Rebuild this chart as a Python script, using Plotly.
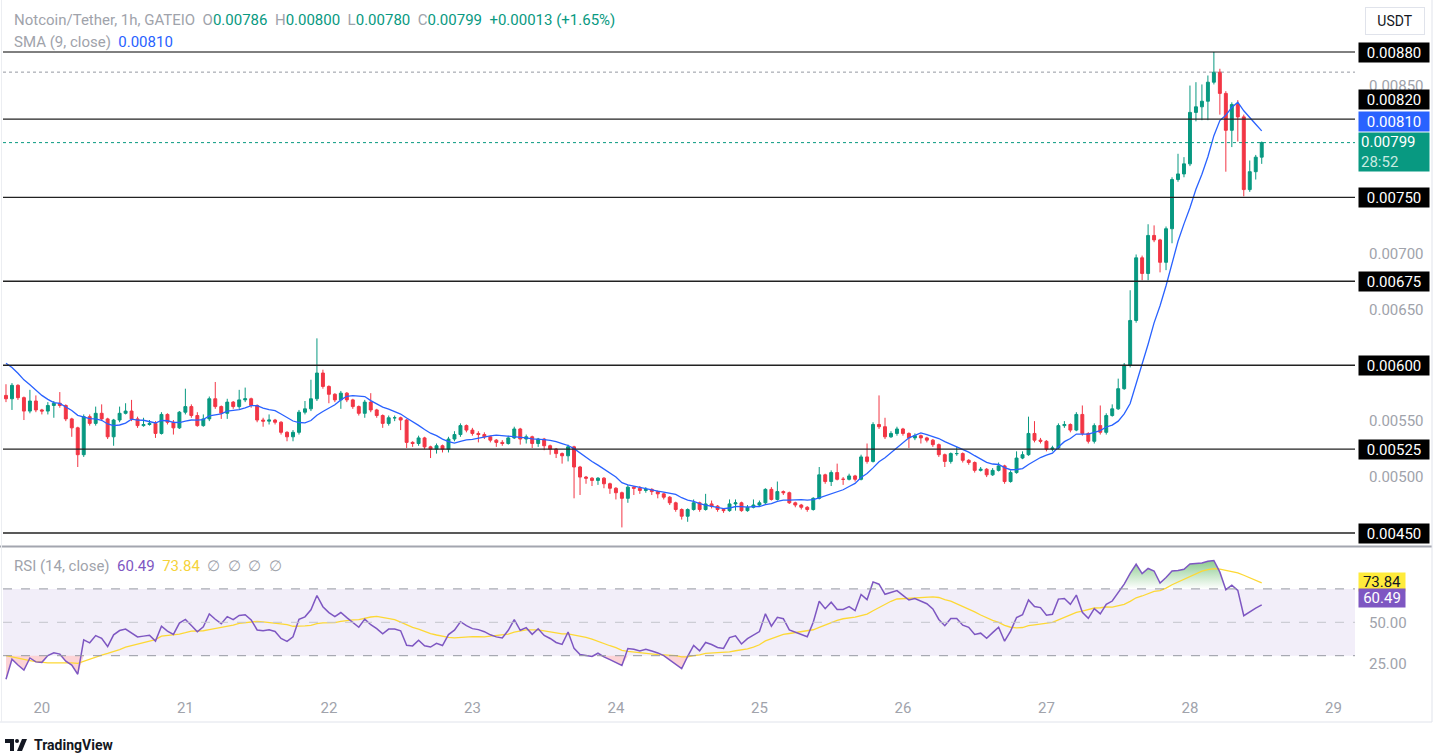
import numpy as np
import pandas as pd
import plotly.graph_objects as go

W, H = 1436, 753
GREEN = "#089981"
RED = "#f23645"
BLUE = "#2962ff"
PURPLE = "#7e57c2"
YELLOW = "#fdd835"
GRAY = "#a0a3ab"
DARK = "#131722"
FONT = "Roboto"

# ---------------- data (prices in units of 1e-5 USDT) ----------------
start_time = "2024-05-19 18:00"
first_open_e5 = 573
closes_e5 = [
    570, 582, 571, 559, 568, 560, 559, 564, 566, 564,
    552, 544, 520, 554, 548, 557, 552, 536, 551, 557,
    559, 552, 546, 547, 548, 539, 556, 549, 544, 558,
    563, 555, 546, 552, 570, 563, 557, 567, 563, 569,
    570, 564, 551, 550, 551, 549, 540, 536, 540, 558,
    561, 570, 593, 581, 574, 569, 575, 569, 563, 557,
    567, 560, 555, 548, 553, 553, 551, 531, 530, 535,
    527, 525, 528, 525, 534, 538, 546, 542, 539, 538,
    536, 533, 531, 530, 535, 543, 534, 536, 530, 534,
    528, 525, 521, 519, 527, 509, 500, 499, 497, 499,
    494, 490, 486, 481, 491, 490, 488, 489, 487, 485,
    482, 477, 471, 465, 471, 477, 471, 476, 474, 471,
    470, 476, 477, 470, 473, 475, 477, 489, 480, 487,
    486, 477, 475, 473, 471, 481, 502, 496, 504, 498,
    498, 501, 498, 518, 514, 547, 545, 536, 539, 543,
    539, 535, 537, 535, 533, 529, 520, 514, 521, 521,
    515, 513, 506, 507, 502, 506, 510, 496, 504, 517,
    520, 539, 533, 532, 525, 526, 546, 547, 542, 556,
    539, 532, 546, 540, 555, 561, 579, 600, 640, 696,
    682, 716, 712, 692, 722, 766, 771, 780, 826, 831,
    836, 853, 862, 843, 810, 833, 822, 757, 773, 786,
    799,
]
highs_e5 = [
    583, 584, 583, 572, 578, 573, 561, 567, 568, 576,
    565, 553, 545, 556, 556, 563, 565, 553, 552, 563,
    566, 569, 554, 553, 551, 550, 558, 557, 551, 559,
    579, 565, 558, 556, 572, 585, 564, 570, 568, 578,
    580, 571, 565, 553, 556, 552, 550, 541, 542, 560,
    568, 587, 624, 596, 582, 575, 577, 576, 570, 564,
    569, 575, 561, 556, 555, 555, 554, 552, 532, 537,
    536, 528, 530, 529, 536, 541, 548, 547, 544, 541,
    540, 537, 534, 533, 537, 545, 544, 538, 537, 535,
    535, 529, 526, 522, 529, 528, 510, 501, 500, 500,
    500, 495, 491, 487, 493, 492, 492, 491, 490, 488,
    486, 483, 478, 472, 472, 480, 478, 485, 479, 475,
    472, 480, 480, 478, 475, 480, 479, 490, 491, 496,
    488, 487, 478, 476, 474, 482, 509, 503, 506, 512,
    500, 503, 502, 520, 530, 549, 573, 553, 541, 545,
    544, 540, 539, 538, 536, 534, 530, 521, 522, 527,
    522, 516, 514, 509, 508, 508, 513, 511, 506, 523,
    523, 554, 550, 535, 533, 528, 548, 550, 548, 558,
    564, 540, 548, 564, 557, 565, 588, 602, 667, 699,
    698, 726, 725, 713, 724, 768, 789, 786, 850, 853,
    851, 859, 880, 865, 845, 835, 837, 824, 783, 788,
    800,
]
lows_e5 = [
    567, 560, 569, 551, 557, 558, 556, 556, 553, 562,
    550, 536, 509, 518, 546, 546, 550, 534, 528, 549,
    556, 550, 544, 545, 546, 535, 538, 547, 538, 543,
    556, 553, 545, 545, 550, 561, 552, 552, 561, 561,
    567, 562, 549, 545, 547, 547, 538, 532, 532, 538,
    556, 559, 568, 579, 566, 567, 561, 567, 561, 555,
    553, 558, 553, 544, 546, 550, 542, 526, 527, 528,
    525, 517, 521, 522, 522, 532, 536, 540, 537, 531,
    534, 531, 527, 528, 529, 534, 529, 530, 526, 527,
    524, 520, 517, 512, 514, 481, 484, 494, 492, 493,
    490, 485, 480, 455, 477, 484, 485, 486, 484, 481,
    480, 475, 469, 462, 460, 470, 469, 470, 472, 469,
    468, 469, 470, 469, 469, 472, 474, 476, 479, 479,
    484, 476, 473, 471, 469, 470, 480, 494, 492, 497,
    493, 497, 496, 497, 512, 513, 543, 534, 535, 537,
    537, 526, 533, 530, 531, 527, 518, 509, 512, 519,
    513, 511, 504, 505, 500, 501, 505, 494, 495, 503,
    516, 519, 531, 530, 523, 523, 525, 544, 540, 541,
    537, 530, 530, 538, 538, 554, 560, 578, 598, 638,
    676, 676, 710, 683, 685, 709, 764, 768, 778, 818,
    819, 819, 851, 824, 773, 795, 800, 751, 755, 766,
    780,
]
# closes before the visible window (needed to start SMA / RSI)
pre_closes_e5 = [646, 650, 644, 648, 642, 646, 640, 643, 637, 640, 634, 637, 631, 634,
                 628, 630, 624, 626, 620, 622, 616, 618, 612, 608, 604, 600, 596, 592]

levels = [0.00880, 0.00820, 0.00750, 0.00675, 0.00600, 0.00525, 0.00450]
dotted_level = 0.00862
price_ticks = [0.00850, 0.00700, 0.00650, 0.00550, 0.00500]
rsi_ticks = [50, 25]
rsi_bands = [70, 50, 30]
day_labels = ["20", "21", "22", "23", "24", "25", "26", "27", "28", "29"]
day_dates = ["2024-05-%s" % d for d in day_labels]
sma_label_value = 0.00810
rsi_label_value = 60.49
rsi_ma_label_value = 73.84
countdown = "28:52"

# ---------------- derived ----------------
E5 = 1e-5
closes = [round(v * E5, 5) for v in closes_e5]
highs = [round(v * E5, 5) for v in highs_e5]
lows = [round(v * E5, 5) for v in lows_e5]
opens = [round(first_open_e5 * E5, 5)] + closes[:-1]
pre = [round(v * E5, 5) for v in pre_closes_e5]
times = pd.date_range(start_time, periods=len(closes), freq="h")

all_c = np.array(pre + closes)
sma = pd.Series(all_c).rolling(9).mean().to_numpy()[len(pre):]


def rsi_wilder(c, n=14):
    d = np.diff(c)
    g = np.clip(d, 0, None)
    l = np.clip(-d, 0, None)
    out = np.full(len(c), np.nan)
    ag, al = g[:n].mean(), l[:n].mean()
    out[n] = 100 - 100 / (1 + ag / al) if al > 0 else 100
    for i in range(n, len(d)):
        ag = (ag * (n - 1) + g[i]) / n
        al = (al * (n - 1) + l[i]) / n
        out[i + 1] = 100 - 100 / (1 + ag / al) if al > 0 else 100
    return out


rsi_all = rsi_wilder(all_c)
rsi_ma_all = pd.Series(rsi_all).rolling(14).mean().to_numpy()
rsi = rsi_all[len(pre):]
rsi_ma = rsi_ma_all[len(pre):]


def PX(x):
    return x / W


def PY(y):
    return 1 - y / H


X0, X1 = 3, 1355
xr = [times[0] - pd.Timedelta(minutes=30), times[0] + pd.Timedelta(hours=225.6)]
price_range = [0.00880 - 494 / 1.1186 * E5, 0.00880 + 52 / 1.1186 * E5]
rsi_range = [50 - 70.7 / 1.67, 50 + 74.3 / 1.67]

fig = go.Figure()
fig.add_trace(go.Candlestick(
    x=times, open=opens, high=highs, low=lows, close=closes,
    increasing=dict(line=dict(color=GREEN, width=1), fillcolor=GREEN),
    decreasing=dict(line=dict(color=RED, width=1), fillcolor=RED),
    whiskerwidth=0, xaxis="x", yaxis="y", hoverinfo="skip", showlegend=False))
fig.add_trace(go.Scatter(x=times, y=sma, mode="lines", line=dict(color=BLUE, width=1.3),
                         xaxis="x", yaxis="y", hoverinfo="skip"))

# RSI overbought / oversold fills
fig.add_trace(go.Scatter(x=times, y=[70] * len(times), mode="lines", line=dict(width=0),
                         xaxis="x2", yaxis="y2", hoverinfo="skip"))
fig.add_trace(go.Scatter(x=times, y=np.maximum(rsi, 70), mode="lines", line=dict(width=0),
                         fill="tonexty", fillcolor="rgba(76,175,80,0.3)",
                         fillgradient=dict(type="vertical",
                                           colorscale=[[0, "rgba(76,175,80,0)"], [1, "rgba(76,175,80,0.65)"]]),
                         xaxis="x2", yaxis="y2", hoverinfo="skip"))
fig.add_trace(go.Scatter(x=times, y=[30] * len(times), mode="lines", line=dict(width=0),
                         xaxis="x2", yaxis="y2", hoverinfo="skip"))
fig.add_trace(go.Scatter(x=times, y=np.minimum(rsi, 30), mode="lines", line=dict(width=0),
                         fill="tonexty", fillcolor="rgba(242,54,69,0.22)",
                         xaxis="x2", yaxis="y2", hoverinfo="skip"))
fig.add_trace(go.Scatter(x=times, y=rsi_ma, mode="lines", line=dict(color=YELLOW, width=1.3),
                         xaxis="x2", yaxis="y2", hoverinfo="skip"))
fig.add_trace(go.Scatter(x=times, y=rsi, mode="lines", line=dict(color=PURPLE, width=1.5),
                         xaxis="x2", yaxis="y2", hoverinfo="skip"))

shapes = []
# RSI band
shapes.append(dict(type="rect", xref="paper", yref="y2", x0=PX(X0), x1=PX(X1), y0=30, y1=70,
                   fillcolor="rgba(126,87,194,0.10)", line=dict(width=0), layer="below"))
for b in rsi_bands:
    shapes.append(dict(type="line", xref="paper", yref="y2", x0=PX(X0), x1=PX(X1), y0=b, y1=b,
                       line=dict(color="#9598a1" if b != 50 else "#c3c5cc", width=1, dash="dash")))
# horizontal levels
for lv in levels:
    shapes.append(dict(type="line", xref="paper", yref="y", x0=PX(X0), x1=PX(X1), y0=lv, y1=lv,
                       line=dict(color="#222222" if lv != levels[0] else "#000000",
                                 width=1.4 if lv != levels[0] else 1)))
shapes.append(dict(type="line", xref="paper", yref="y", x0=PX(X0), x1=PX(X1), y0=dotted_level,
                   y1=dotted_level, line=dict(color="#9598a1", width=1, dash="dot")))
shapes.append(dict(type="line", xref="paper", yref="y", x0=PX(X0), x1=PX(X1), y0=closes[-1],
                   y1=closes[-1], line=dict(color=GREEN, width=1, dash="dot")))
# pane separator & borders
shapes.append(dict(type="line", xref="paper", yref="paper", x0=0, x1=PX(1432), y0=PY(546.5),
                   y1=PY(546.5), line=dict(color="#a3a6af", width=2)))
shapes.append(dict(type="line", xref="paper", yref="paper", x0=PX(1432), x1=PX(1432), y0=PY(0),
                   y1=PY(722), line=dict(color="#e0e3eb", width=1)))
shapes.append(dict(type="line", xref="paper", yref="paper", x0=0, x1=PX(1432), y0=PY(722),
                   y1=PY(722), line=dict(color="#e0e3eb", width=1)))
shapes.append(dict(type="line", xref="paper", yref="paper", x0=PX(1.5), x1=PX(1.5), y0=PY(0),
                   y1=PY(722), line=dict(color="#eceef2", width=1)))
# TradingView logo
shapes.append(dict(type="path", xref="paper", yref="paper",
                   path="M %f %f L %f %f L %f %f L %f %f L %f %f L %f %f L %f %f L %f %f Z" % (
                       PX(5), PY(739), PX(14), PY(739), PX(14), PY(751), PX(10), PY(751),
                       PX(10), PY(743), PX(5), PY(743), PX(5), PY(741), PX(5), PY(739)),
                   fillcolor=DARK, line=dict(width=0)))
shapes.append(dict(type="circle", xref="paper", yref="paper", x0=PX(15), x1=PX(19), y0=PY(739),
                   y1=PY(743), fillcolor=DARK, line=dict(width=0)))
shapes.append(dict(type="path", xref="paper", yref="paper",
                   path="M %f %f L %f %f L %f %f L %f %f Z" % (
                       PX(17), PY(751), PX(22), PY(739), PX(27), PY(739), PX(22), PY(751)),
                   fillcolor=DARK, line=dict(width=0)))

FS = 15
ann = []
label_shift = {0.00820: 20}
for lv in levels:
    ann.append(dict(xref="paper", yref="y", x=PX(1393.5), y=lv, yshift=label_shift.get(lv, 0),
                    xanchor="center", yanchor="middle",
                    text="%.5f" % lv, showarrow=False, bgcolor="#000000",
                    font=dict(color="white", size=FS, family=FONT), width=66, height=15, borderpad=2))
ann.append(dict(xref="paper", yref="y", x=PX(1393.5), y=sma_label_value, yshift=9,
                xanchor="center", yanchor="middle",
                text="%.5f" % sma_label_value, showarrow=False, bgcolor=BLUE,
                font=dict(color="white", size=FS, family=FONT), width=66, height=15, borderpad=2))
ann.append(dict(xref="paper", yref="y", x=PX(1393.5), y=closes[-1], xanchor="center", yanchor="top",
                yshift=11,
                text="%.5f<br><span style='color:#c8ebe2'>%s</span>" % (closes[-1], countdown),
                showarrow=False, bgcolor=GREEN, align="left",
                font=dict(color="white", size=FS, family=FONT), width=66, height=34, borderpad=2))
ann.append(dict(xref="paper", yref="y2", x=PX(1381.5), y=rsi_ma_label_value,
                xanchor="center", yanchor="middle",
                text="%.2f" % rsi_ma_label_value, showarrow=False, bgcolor="#ffeb3b",
                font=dict(color=DARK, size=FS, family=FONT), width=42, height=14, borderpad=2))
ann.append(dict(xref="paper", yref="y2", x=PX(1381.5), y=rsi_label_value, yshift=7,
                xanchor="center", yanchor="middle",
                text="%.2f" % rsi_label_value, showarrow=False, bgcolor=PURPLE,
                font=dict(color="white", size=FS, family=FONT), width=42, height=14, borderpad=2))

o, h, l, c = opens[-1], highs[-1], lows[-1], closes[-1]
chg = c - o
sp = "\u00a0\u00a0"
legend1 = ("<span style='color:%s'>Notcoin/Tether, 1h, GATEIO</span>%s"
           "<span style='color:%s'>O</span>%.5f%s<span style='color:%s'>H</span>%.5f%s"
           "<span style='color:%s'>L</span>%.5f%s<span style='color:%s'>C</span>%.5f%s%+.5f (%+.2f%%)") % (
    GRAY, sp, GRAY, o, sp, GRAY, h, sp, GRAY, l, sp, GRAY, c, sp, chg, chg / o * 100)
ann.append(dict(xref="paper", yref="paper", x=PX(12), y=PY(20), xanchor="left", yanchor="middle",
                text=legend1, showarrow=False, font=dict(color=GREEN, size=FS, family=FONT)))
ann.append(dict(xref="paper", yref="paper", x=PX(12), y=PY(42), xanchor="left", yanchor="middle",
                text="<span style='color:%s'>SMA (9, close)</span>%s%.5f" % (GRAY, sp, sma_label_value),
                showarrow=False, font=dict(color=BLUE, size=FS, family=FONT)))
ann.append(dict(xref="paper", yref="paper", x=PX(12), y=PY(566), xanchor="left", yanchor="middle",
                text=("<span style='color:%s'>RSI (14, close)</span>%s<span style='color:%s'>%.2f</span>%s"
                      "<span style='color:#f5d33a'>%.2f</span>%s∅%s∅%s∅%s∅") % (
                    GRAY, sp, PURPLE, rsi_label_value, sp, rsi_ma_label_value, sp, sp, sp, sp),
                showarrow=False, font=dict(color=GRAY, size=FS, family=FONT)))
ann.append(dict(xref="paper", yref="paper", x=PX(1395), y=PY(21), xanchor="center", yanchor="middle",
                text="USDT", showarrow=False,
                font=dict(color=DARK, size=14, family=FONT), bordercolor="#e0e3eb", borderwidth=1,
                width=56, height=24, borderpad=1))
ann.append(dict(xref="paper", yref="paper", x=PX(32), y=PY(745), xanchor="left", yanchor="middle",
                text="<b>TradingView</b>", showarrow=False,
                font=dict(color=DARK, size=14, family=FONT)))

axis_font = dict(color=GRAY, size=FS, family=FONT)
fig.update_layout(
    template="none", width=W, height=H, margin=dict(l=0, r=0, t=0, b=0),
    paper_bgcolor="white", plot_bgcolor="rgba(0,0,0,0)", showlegend=False,
    font=dict(family=FONT),
    xaxis=dict(domain=[PX(X0), PX(X1)], range=xr, anchor="y", type="date", showticklabels=False,
               showgrid=False, zeroline=False, showline=False, ticks="", automargin=False,
               rangeslider=dict(visible=False)),
    yaxis=dict(domain=[PY(546), PY(0)], range=price_range, anchor="x", side="right",
               tickvals=price_ticks, ticktext=["%.5f" % v for v in price_ticks], tickfont=axis_font,
               showgrid=False, zeroline=False, showline=False, ticks="", automargin=False,
               ticklabelstandoff=13),
    xaxis2=dict(domain=[PX(X0), PX(X1)], range=xr, anchor="y2", type="date",
                tickvals=day_dates, ticktext=day_labels, tickfont=axis_font,
                showgrid=False, zeroline=False, showline=False, ticks="", automargin=False,
                ticklabelstandoff=4),
    yaxis2=dict(domain=[PY(693), PY(548)], range=rsi_range, anchor="x2", side="right",
                tickvals=rsi_ticks, ticktext=["%.2f" % v for v in rsi_ticks], tickfont=axis_font,
                showgrid=False, zeroline=False, showline=False, ticks="", automargin=False,
                ticklabelstandoff=13),
    shapes=shapes, annotations=ann,
)
fig.write_html("out.html", config={"displayModeBar": False},
               post_script="document.body.style.margin='0';document.body.style.overflow='hidden';")
